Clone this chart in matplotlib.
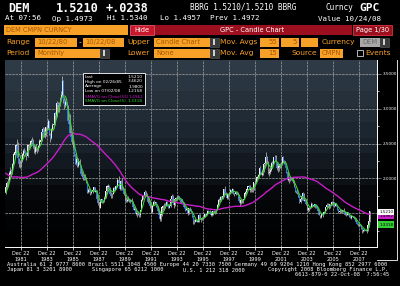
"""
Pantalla GPC de Bloomberg: velas mensuales USD/DEM 10/22/80 - 10/22/08
con medias móviles de 55 y 5 meses, cabecera y pie de terminal.
"""
import numpy as np
import pandas as pd
import matplotlib

matplotlib.use("Agg")
import matplotlib.pyplot as plt  # noqa: E402
from matplotlib.colors import LinearSegmentedColormap  # noqa: E402
from matplotlib.patches import Rectangle  # noqa: E402
from matplotlib.transforms import Affine2D, blended_transform_factory  # noqa: E402

plt.rcParams["font.family"] = ["DejaVu Sans"]

# Cierres previos (abr-1976 .. sep-1980), sólo para arrancar las medias móviles.
cierres_previos = [
    2.53, 2.58, 2.58, 2.55, 2.52, 2.44, 2.40, 2.41, 2.36,
    2.40, 2.40, 2.38, 2.37, 2.36, 2.35, 2.26, 2.33, 2.30, 2.24, 2.22, 2.10,
    2.10, 2.06, 2.01, 2.07, 2.09, 2.08, 2.05, 1.98, 1.95, 1.80, 1.92, 1.83,
    1.85, 1.86, 1.86, 1.90, 1.89, 1.84, 1.83, 1.83, 1.76, 1.80, 1.74, 1.73,
    1.73, 1.80, 1.97, 1.84, 1.77, 1.75, 1.78, 1.79, 1.79,
]

# Velas mensuales oct-1980 .. oct-2008
cierres = [
    1.87, 1.93, 1.96,
    2.07, 2.10, 2.09, 2.20, 2.34, 2.37, 2.47, 2.48, 2.30, 2.20, 2.20, 2.25,
    2.34, 2.39, 2.39, 2.34, 2.32, 2.47, 2.48, 2.48, 2.53, 2.53, 2.47, 2.38,
    2.44, 2.42, 2.42, 2.46, 2.53, 2.55, 2.66, 2.70, 2.63, 2.63, 2.73, 2.72,
    2.82, 2.64, 2.58, 2.70, 2.77, 2.78, 2.94, 2.90, 3.08, 3.06, 3.05, 3.15,
    3.20, 3.40, 3.12, 3.06, 3.09, 3.04, 2.83, 2.78, 2.65, 2.60, 2.53, 2.45,
    2.34, 2.22, 2.28, 2.18, 2.25, 2.19, 2.07, 2.03, 2.03, 2.00, 1.99, 1.94,
    1.81, 1.83, 1.82, 1.79, 1.80, 1.83, 1.87, 1.81, 1.83, 1.70, 1.65, 1.58,
    1.69, 1.70, 1.66, 1.67, 1.72, 1.82, 1.88, 1.88, 1.88, 1.78, 1.74, 1.78,
    1.86, 1.84, 1.89, 1.88, 1.97, 1.93, 1.85, 1.96, 1.85, 1.83, 1.78, 1.69,
    1.68, 1.69, 1.70, 1.68, 1.69, 1.66, 1.59, 1.55, 1.56, 1.49, 1.50, 1.49,
    1.47, 1.54, 1.69, 1.74, 1.74, 1.80, 1.76, 1.74, 1.66, 1.66, 1.61, 1.52,
    1.61, 1.66, 1.65, 1.65, 1.60, 1.53, 1.47, 1.41, 1.48, 1.58, 1.60, 1.62,
    1.61, 1.66, 1.61, 1.58, 1.60, 1.70, 1.75, 1.67, 1.62, 1.70, 1.72, 1.74,
    1.75, 1.70, 1.67, 1.66, 1.65, 1.59, 1.58, 1.55, 1.55, 1.50, 1.57, 1.55,
    1.51, 1.46, 1.39, 1.38, 1.40, 1.38, 1.38, 1.47, 1.43, 1.41, 1.42, 1.44,
    1.48, 1.47, 1.48, 1.53, 1.53, 1.52, 1.47, 1.48, 1.53, 1.52, 1.52, 1.55,
    1.62, 1.69, 1.69, 1.73, 1.70, 1.74, 1.84, 1.80, 1.76, 1.72, 1.77, 1.80,
    1.83, 1.82, 1.85, 1.79, 1.77, 1.80, 1.79, 1.76, 1.67, 1.64, 1.69, 1.67,
    1.70, 1.78, 1.80, 1.84, 1.88, 1.89, 1.83, 1.85, 1.85, 1.85, 1.94, 1.95,
    2.01, 2.02, 2.04, 2.14, 2.09, 2.05, 2.10, 2.20, 2.22, 2.30, 2.25, 2.08,
    2.09, 2.12, 2.22, 2.20, 2.31, 2.31, 2.23, 2.15, 2.15, 2.17, 2.20, 2.20,
    2.30, 2.25, 2.24, 2.17, 2.09, 1.97, 2.00, 1.99, 1.99, 1.98, 1.97, 1.87,
    1.82, 1.81, 1.79, 1.75, 1.66, 1.70, 1.74, 1.78, 1.68, 1.68, 1.63, 1.55,
    1.57, 1.57, 1.59, 1.63, 1.60, 1.61, 1.63, 1.61, 1.57, 1.53, 1.47, 1.44,
    1.50, 1.48, 1.51, 1.52, 1.59, 1.62, 1.61, 1.59, 1.63, 1.63, 1.66, 1.65,
    1.61, 1.64, 1.61, 1.55, 1.52, 1.53, 1.53, 1.53, 1.54, 1.53, 1.48, 1.48,
    1.51, 1.48, 1.46, 1.43, 1.45, 1.45, 1.43, 1.43, 1.37, 1.35, 1.33, 1.34,
    1.32, 1.29, 1.24, 1.26, 1.26, 1.24, 1.25, 1.33, 1.39, 1.521,
]
maximos = [
    1.89, 1.96, 2.00,
    2.10, 2.16, 2.14, 2.22, 2.37, 2.44, 2.50, 2.57, 2.52, 2.30, 2.27, 2.30,
    2.36, 2.42, 2.44, 2.41, 2.37, 2.50, 2.50, 2.52, 2.56, 2.60, 2.56, 2.49,
    2.46, 2.49, 2.45, 2.48, 2.56, 2.58, 2.67, 2.74, 2.73, 2.67, 2.74, 2.78,
    2.86, 2.83, 2.65, 2.72, 2.80, 2.80, 2.95, 2.97, 3.11, 3.10, 3.10, 3.17,
    3.25, 3.47, 3.42, 3.17, 3.14, 3.10, 3.05, 2.85, 2.92, 2.68, 2.62, 2.56,
    2.47, 2.34, 2.36, 2.30, 2.29, 2.28, 2.19, 2.10, 2.06, 2.07, 2.06, 2.02,
    1.95, 1.86, 1.86, 1.83, 1.83, 1.84, 1.88, 1.88, 1.84, 1.84, 1.72, 1.66,
    1.70, 1.71, 1.71, 1.69, 1.74, 1.82, 1.91, 1.92, 1.90, 1.87, 1.80, 1.79,
    1.87, 1.87, 1.89, 1.90, 2.00, 2.04, 1.94, 1.98, 2.00, 1.87, 1.84, 1.78,
    1.73, 1.72, 1.74, 1.72, 1.71, 1.72, 1.67, 1.60, 1.59, 1.58, 1.52, 1.53,
    1.51, 1.55, 1.71, 1.75, 1.76, 1.83, 1.82, 1.79, 1.75, 1.72, 1.67, 1.62,
    1.62, 1.67, 1.69, 1.66, 1.66, 1.61, 1.54, 1.48, 1.51, 1.60, 1.62, 1.64,
    1.64, 1.68, 1.67, 1.63, 1.63, 1.71, 1.77, 1.76, 1.67, 1.70, 1.73, 1.74,
    1.76, 1.75, 1.72, 1.71, 1.70, 1.66, 1.60, 1.59, 1.57, 1.55, 1.58, 1.59,
    1.56, 1.53, 1.46, 1.41, 1.42, 1.42, 1.40, 1.49, 1.49, 1.43, 1.45, 1.46,
    1.49, 1.49, 1.49, 1.54, 1.55, 1.54, 1.53, 1.50, 1.53, 1.55, 1.55, 1.56,
    1.63, 1.70, 1.72, 1.74, 1.74, 1.75, 1.85, 1.89, 1.81, 1.79, 1.77, 1.81,
    1.85, 1.84, 1.86, 1.85, 1.79, 1.82, 1.82, 1.81, 1.77, 1.70, 1.70, 1.71,
    1.71, 1.79, 1.82, 1.85, 1.89, 1.90, 1.90, 1.87, 1.88, 1.87, 1.94, 1.98,
    2.02, 2.04, 2.06, 2.15, 2.18, 2.13, 2.12, 2.21, 2.30, 2.38, 2.32, 2.25,
    2.15, 2.17, 2.23, 2.25, 2.31, 2.34, 2.33, 2.24, 2.22, 2.18, 2.22, 2.23,
    2.31, 2.32, 2.27, 2.25, 2.18, 2.10, 2.02, 2.03, 2.02, 2.02, 2.00, 1.98,
    1.88, 1.84, 1.85, 1.81, 1.75, 1.72, 1.76, 1.80, 1.79, 1.71, 1.70, 1.63,
    1.59, 1.59, 1.61, 1.66, 1.65, 1.62, 1.63, 1.63, 1.62, 1.58, 1.53, 1.48,
    1.51, 1.51, 1.52, 1.53, 1.59, 1.64, 1.65, 1.62, 1.63, 1.65, 1.68, 1.67,
    1.66, 1.65, 1.65, 1.62, 1.56, 1.56, 1.56, 1.54, 1.55, 1.57, 1.53, 1.50,
    1.52, 1.51, 1.48, 1.47, 1.46, 1.46, 1.46, 1.45, 1.43, 1.38, 1.36, 1.37,
    1.35, 1.33, 1.29, 1.27, 1.28, 1.27, 1.26, 1.34, 1.40, 1.534,
]
minimos = [
    1.78, 1.86, 1.90,
    1.95, 2.04, 2.03, 2.07, 2.19, 2.30, 2.36, 2.42, 2.26, 2.17, 2.15, 2.17,
    2.24, 2.32, 2.36, 2.32, 2.26, 2.31, 2.44, 2.44, 2.47, 2.49, 2.44, 2.36,
    2.35, 2.40, 2.37, 2.40, 2.45, 2.50, 2.54, 2.64, 2.60, 2.58, 2.61, 2.70,
    2.71, 2.63, 2.53, 2.57, 2.68, 2.72, 2.77, 2.86, 2.88, 2.96, 2.96, 3.04,
    3.13, 3.18, 3.08, 3.00, 3.03, 3.02, 2.80, 2.71, 2.63, 2.55, 2.50, 2.44,
    2.32, 2.20, 2.19, 2.16, 2.16, 2.17, 2.05, 2.02, 1.98, 1.97, 1.97, 1.93,
    1.79, 1.79, 1.80, 1.76, 1.77, 1.79, 1.82, 1.80, 1.79, 1.69, 1.62, 1.57,
    1.58, 1.66, 1.65, 1.65, 1.66, 1.72, 1.80, 1.85, 1.84, 1.77, 1.72, 1.72,
    1.78, 1.82, 1.83, 1.85, 1.87, 1.90, 1.83, 1.83, 1.84, 1.80, 1.76, 1.68,
    1.66, 1.66, 1.68, 1.66, 1.65, 1.66, 1.58, 1.54, 1.54, 1.48, 1.45, 1.47,
    1.45, 1.45, 1.53, 1.68, 1.71, 1.73, 1.75, 1.72, 1.65, 1.64, 1.58, 1.51,
    1.51, 1.60, 1.63, 1.63, 1.59, 1.53, 1.45, 1.39, 1.39, 1.46, 1.55, 1.55,
    1.58, 1.60, 1.60, 1.57, 1.57, 1.59, 1.68, 1.66, 1.58, 1.61, 1.68, 1.69,
    1.71, 1.69, 1.66, 1.65, 1.64, 1.58, 1.53, 1.54, 1.53, 1.48, 1.49, 1.53,
    1.50, 1.45, 1.35, 1.35, 1.37, 1.37, 1.37, 1.38, 1.42, 1.38, 1.40, 1.41,
    1.43, 1.45, 1.46, 1.47, 1.51, 1.50, 1.46, 1.46, 1.47, 1.51, 1.49, 1.51,
    1.55, 1.61, 1.66, 1.67, 1.68, 1.70, 1.73, 1.79, 1.75, 1.71, 1.71, 1.76,
    1.78, 1.80, 1.79, 1.78, 1.74, 1.76, 1.77, 1.75, 1.66, 1.60, 1.63, 1.64,
    1.65, 1.70, 1.75, 1.78, 1.83, 1.86, 1.81, 1.81, 1.81, 1.80, 1.84, 1.91,
    1.93, 1.98, 2.00, 2.02, 2.06, 2.03, 2.05, 2.09, 2.16, 2.20, 2.22, 2.07,
    2.03, 2.07, 2.10, 2.15, 2.19, 2.27, 2.21, 2.12, 2.09, 2.11, 2.15, 2.15,
    2.19, 2.23, 2.21, 2.16, 2.08, 1.96, 1.93, 1.96, 1.97, 1.96, 1.94, 1.87,
    1.80, 1.79, 1.77, 1.73, 1.65, 1.64, 1.69, 1.73, 1.67, 1.65, 1.62, 1.55,
    1.52, 1.53, 1.56, 1.58, 1.59, 1.59, 1.57, 1.58, 1.56, 1.52, 1.47, 1.43,
    1.43, 1.47, 1.45, 1.50, 1.51, 1.57, 1.59, 1.56, 1.57, 1.61, 1.62, 1.62,
    1.59, 1.60, 1.60, 1.55, 1.50, 1.51, 1.51, 1.51, 1.52, 1.52, 1.47, 1.46,
    1.48, 1.48, 1.45, 1.43, 1.42, 1.44, 1.41, 1.41, 1.37, 1.35, 1.31, 1.32,
    1.31, 1.28, 1.22, 1.23, 1.24, 1.24, 1.22, 1.25, 1.30, 1.38,
]
anios_eje = list(range(1981, 2008, 2))
niveles_y = [1.5, 2.0, 2.5, 3.0, 3.5]
leyenda_txt = ["Last", "High on 02/26/85", "Average", "Low on 07/02/08",
               "SMAVG on Close(55)", "SMAVG on Close(5)"]
leyenda_val = ["1.5210", "3.4620", "1.9800", "1.2158", "1.4962", "1.3318"]

# Paleta de terminal
_NARANJA = "#f7a128"
_NARANJA_TXT = "#a85800"
_ROJO = "#9c0f1e"
_AZUL = "#2f78e0"
_BLANCO = "#ececec"
_MECHA = "#c4c4c4"
_MAGENTA = "#c81ec8"
_VERDE = "#35d035"
_MONO = "DejaVu Sans Mono"

fig = plt.figure(figsize=(4, 2.86), dpi=100, facecolor="black")
# coordenadas en píxeles con origen arriba a la izquierda
T = Affine2D().scale(1 / 400, -1 / 286).translate(0, 1) + fig.transFigure


def _caja(x, y, w, h, fc, ec="none", lw=0.6):
    fig.patches.append(Rectangle((x, y), w, h, transform=T, facecolor=fc,
                                 edgecolor=ec, linewidth=lw))


def _texto(x, y, s, size=5.0, color="white", **kw):
    fig.text(x, y, s, transform=T, fontsize=size, color=color, va="center", **kw)


# ---------------------------------------------------------------------------
#  Cabecera
# ---------------------------------------------------------------------------
_texto(8, 8.5, "DEM", 8.6, weight="bold", family=_MONO)
_texto(56, 8.5, "1.5210", 8.6, weight="bold", family=_MONO)
_texto(106, 8.5, "+.0238", 8.6, weight="bold", family=_MONO)
_texto(190, 7.5, "BBRG 1.5210/1.5210 BBRG", 5.6, family=_MONO)
_texto(326, 7.5, "Curncy", 5.6, family=_MONO)
_texto(359, 8, "GPC", 8.0, weight="bold", family=_MONO)
_texto(5, 18.5, "At 07:56", 5.4, family=_MONO)
_texto(52, 18.5, "Op 1.4973", 5.4, family=_MONO)
_texto(107, 18.5, "Hi 1.5340", 5.4, family=_MONO)
_texto(160, 18.5, "Lo 1.4957", 5.4, family=_MONO)
_texto(210, 18.5, "Prev 1.4972", 5.4, family=_MONO)
_texto(318, 18.5, "Value 10/24/08", 5.4, family=_MONO)

_caja(4, 25, 124, 10, _NARANJA)
_texto(6, 30, "DEM CMPN CURNCY", 4.8, _NARANJA_TXT)
_caja(130, 25, 24, 10, "#c8172a", ec="#e05a66")
_texto(142, 30, "Hide", 4.8, ha="center")
_caja(155, 25, 197, 10, _ROJO)
_texto(252, 30, "GPC - Candle Chart", 4.8, ha="center")
_caja(353, 25, 39, 10, _ROJO, ec="#e03040")
_texto(372.5, 30, "Page 1/30", 4.8, ha="center")

fila1, fila2 = 42, 53
for x, s in [(6, "Range"), (127, "Upper"), (220, "Mov. Avgs"), (322, "Currency")]:
    _texto(x, fila1, s, 5.4, _NARANJA)
for x, s in [(6, "Period"), (127, "Lower"), (220, "Mov. Avg"), (292, "Source")]:
    _texto(x, fila2, s, 5.4, _NARANJA)
_texto(79, fila1, "-", 5.4, "white")

for x, w, s, y in [(35, 42, "10/22/80", fila1), (83, 41, "10/22/08", fila1),
                   (154, 56, "Candle Chart", fila1), (260, 19, "55", fila1),
                   (281, 18, "5", fila1), (301, 17, "", fila1),
                   (35, 65, "Monthly", fila2), (154, 56, "None", fila2),
                   (260, 19, "15", fila2), (320, 23, "CMPN", fila2)]:
    _caja(x, y - 4.5, w, 9, _NARANJA)
    alin = "right" if s in ("55", "5", "15") else "left"
    _texto(x + w - 2 if alin == "right" else x + 2, y, s, 4.9, _NARANJA_TXT, ha=alin)
_caja(360, fila1 - 4.5, 20, 9, "#a8a8a8")
_texto(362, fila1, "DEM", 4.9, "#6a6a6a")
for x, y in [(210, fila1), (380, fila1), (100, fila2), (210, fila2)]:
    _caja(x, y - 4.5, 9, 9, "#3a3a3a", ec="#606060", lw=0.4)
    _caja(x + 3, y - 3, 1.5, 6, "#d0d0d0")
_caja(357, fila2 - 3, 5.5, 5.5, "black", ec="white", lw=0.5)
_texto(365, fila2, "Events", 5.4, _NARANJA)

# ---------------------------------------------------------------------------
#  Gráfico de velas
# ---------------------------------------------------------------------------
ax = fig.add_axes([5 / 400, 1 - 247 / 286, 372 / 400, 187 / 286])
ax.set_facecolor("black")

n = len(cierres)
x = np.arange(n)
cierre = np.array(cierres)
apertura = np.concatenate([[cierres_previos[-1]], cierre[:-1]])
alto = np.array(maximos)
bajo = np.array(minimos)
sube = cierre >= apertura
colores = np.where(sube, _BLANCO, _AZUL)

serie = pd.Series(cierres_previos + cierres)
sma55 = serie.rolling(55).mean().to_numpy()[len(cierres_previos):]
sma5 = serie.rolling(5).mean().to_numpy()[len(cierres_previos):]

# fondo degradado en bandas, como el terminal
bandas = np.repeat(np.linspace(0, 1, 12), 8)[::-1].reshape(-1, 1)
cmap = LinearSegmentedColormap.from_list(
    "fondo", [(0, "#000000"), (0.25, "#05070a"), (0.55, "#19222b"), (1, "#2e3b47")])
ax.imshow(bandas, extent=[0, 1, 0, 1], transform=ax.transAxes, aspect="auto",
          cmap=cmap, zorder=0, interpolation="nearest")

ax.vlines(x, bajo, alto, colors=_MECHA, linewidth=0.5, zorder=3)
ax.bar(x, np.abs(cierre - apertura) + 0.004, bottom=np.minimum(cierre, apertura),
       width=0.8, color=colores, linewidth=0, zorder=3)
ax.plot(x, sma55, color=_MAGENTA, linewidth=1.0, zorder=4)
ax.plot(x, sma5, color=_VERDE, linewidth=0.8, zorder=5)

ax.set_xlim(-0.77, 342.6)
ax.set_ylim(1.0144, 3.701)

pos_x = [(a - 1980) * 12 + 2 for a in anios_eje]  # diciembre de cada año impar
ax.set_xticks(pos_x)
ax.set_xticklabels([f"Dec 22\n{a}" for a in anios_eje], fontsize=3.6,
                   color="white", linespacing=1.25)
ax.tick_params(axis="x", length=2, width=0.5, color="white", pad=1.2)
ax.set_yticks(niveles_y)
ax.yaxis.tick_right()
ax.set_yticklabels([f"{v:.4f}" if v != 1.5 else "" for v in niveles_y],
                   fontsize=3.0, color="white")
ax.set_yticks([1.25, 1.75, 2.25, 2.75, 3.25], minor=True)
ax.tick_params(axis="y", which="major", length=3, width=0.5, color="#909090", pad=1)
ax.tick_params(axis="y", which="minor", length=1.5, width=0.5, color="white")
ax.grid(True, color="#8c8c8c", linewidth=0.6, linestyle=(0, (3, 1)), zorder=1)
for lado in ("left", "top"):
    ax.spines[lado].set_visible(False)
for lado in ("right", "bottom"):
    ax.spines[lado].set_color("white")
    ax.spines[lado].set_linewidth(0.7)

# etiquetas del eje derecho (último, media 55, media 5)
mezcla = blended_transform_factory(ax.transAxes, ax.transData)
ax.text(1.006, sma55[-1] - 0.03, leyenda_val[4], transform=mezcla, fontsize=3.0,
        color="black", va="center", clip_on=False,
        bbox=dict(facecolor=_MAGENTA, edgecolor="none", pad=0.6))
ax.text(1.006, cierre[-1], leyenda_val[0], transform=mezcla, fontsize=3.0,
        color="black", va="center", clip_on=False,
        bbox=dict(facecolor="white", edgecolor="none", pad=0.6))
ax.text(1.006, sma5[-1] - 0.01, leyenda_val[5], transform=mezcla, fontsize=3.0,
        color="black", va="center", clip_on=False,
        bbox=dict(facecolor=_VERDE, edgecolor="none", pad=0.8))

# recuadro de leyenda
_caja(83, 73, 62, 32, "black", ec="white", lw=0.6)
colores_ley = ["white"] * 4 + [_MAGENTA, _VERDE]
for i, (t, v, c) in enumerate(zip(leyenda_txt, leyenda_val, colores_ley)):
    _texto(85, 76.5 + i * 5, t, 3.1, c)
    _texto(143, 76.5 + i * 5, v, 3.1, c, ha="right")

# marco de la columna de precios
fig.lines.append(plt.Line2D([397, 397, 377], [60, 260, 260], transform=T,
                            color="white", linewidth=0.6))

# ---------------------------------------------------------------------------
#  Pie
# ---------------------------------------------------------------------------
_texto(7, 264.5, "Australia 61 2 9777 8600 Brazil 5511 3048 4500 Europe 44 20 7330 7500 "
       "Germany 49 69 9204 1210 Hong Kong 852 2977 6000", 3.85, family=_MONO)
_texto(7, 270, "Japan 81 3 3201 8900", 3.85, family=_MONO)
_texto(92, 270, "Singapore 65 6212 1000", 3.85, family=_MONO)
_texto(183, 270, "U.S. 1 212 318 2000", 3.85, family=_MONO)
_texto(268, 270, "Copyright 2008 Bloomberg Finance L.P.", 3.85, family=_MONO)
_texto(389, 275, "6613-879-0 22-Oct-08  7:56:45", 3.85, ha="right", family=_MONO)

fig.savefig("out.png", dpi=100, facecolor="black")
